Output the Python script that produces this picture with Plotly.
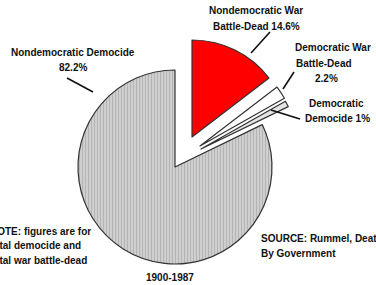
import plotly.graph_objects as go

# Data
categories = ["Nondemocratic War Battle-Dead", "Democratic War Battle-Dead",
              "Democratic Democide", "Nondemocratic Democide"]
values = [14.6, 2.2, 1.0, 82.2]
note_lines = ["NOTE: figures are for", "total democide and", "total war battle-dead"]
source_lines = ["SOURCE: Rummel, Death", "By Government"]
period_text = "1900-1987"

W, H = 376, 285
R = 97
FONT = "Liberation Sans, Arial, sans-serif"

def px(x):
    return x / W

def py(y):
    return 1 - y / H

def dom(cx, cy, r=R):
    return dict(x=[px(cx - r), px(cx + r)], y=[py(cy + r), py(cy - r)])

fills = ["#ff0000", "#ffffff", "#e4e4e4", "#cfcfcf"]
# vertex (centre) of each slice after explosion
centres = [(192, 137), (200, 146), (201, 149), (175, 167)]

fig = go.Figure()
for i in [3, 0, 1, 2]:
    colors = ["rgba(0,0,0,0)"] * 4
    colors[i] = fills[i]
    widths = [0] * 4
    widths[i] = 1.2
    pat_shape = [""] * 4
    if i == 3:
        pat_shape[i] = "|"
    fig.add_trace(go.Pie(
        labels=categories, values=values, sort=False, direction="clockwise",
        rotation=0, textinfo="none", hoverinfo="skip", showlegend=False,
        domain=dom(*centres[i]),
        marker=dict(colors=colors,
                    line=dict(color="#333333", width=widths),
                    pattern=dict(shape=pat_shape, size=3, solidity=0.35,
                                 fgcolor="#999999", fillmode="overlay")),
    ))

def ann(text, x, y, xanchor="center", size=10):
    fig.add_annotation(text="<b>" + text + "</b>", x=px(x), y=py(y), xref="paper", yref="paper",
                       xanchor=xanchor, yanchor="middle", showarrow=False,
                       font=dict(family=FONT, size=size, color="#111111"))

# slice labels, one line each
ann("Nondemocratic Democide", 73, 52)
ann(f"{values[3]}%", 73, 67)
ann("Nondemocratic War", 256, 10)
ann(f"Battle-Dead {values[0]}%", 256, 26)
ann("Democratic War", 293, 48, xanchor="left")
ann("Battle-Dead", 294, 63, xanchor="left")
ann(f"{values[1]}%", 326, 79)
ann("Democratic", 336, 103)
ann(f"Democide {values[2]:g}%", 337, 119)

for k, t in enumerate(note_lines):
    ann(t, -12, 231 + 14.5 * k, xanchor="left")
for k, t in enumerate(source_lines):
    ann(t, 259, 238 + 15 * k, xanchor="left")
ann(period_text, 170, 277)

lines = [((67, 78), (93, 92)), ((270, 32), (251, 53)),
         ((294, 72), (283, 89)), ((271, 110), (300, 119))]
for (x0, y0), (x1, y1) in lines:
    fig.add_shape(type="line", xref="paper", yref="paper",
                  x0=px(x0), y0=py(y0), x1=px(x1), y1=py(y1),
                  line=dict(color="#111111", width=1.6))

fig.update_layout(width=W, height=H, margin=dict(l=0, r=0, t=0, b=0),
                  paper_bgcolor="white", plot_bgcolor="white")
fig.write_html("out.html", config={"displayModeBar": False},
               post_script="document.body.style.margin='0px';document.body.style.overflow='hidden';")
